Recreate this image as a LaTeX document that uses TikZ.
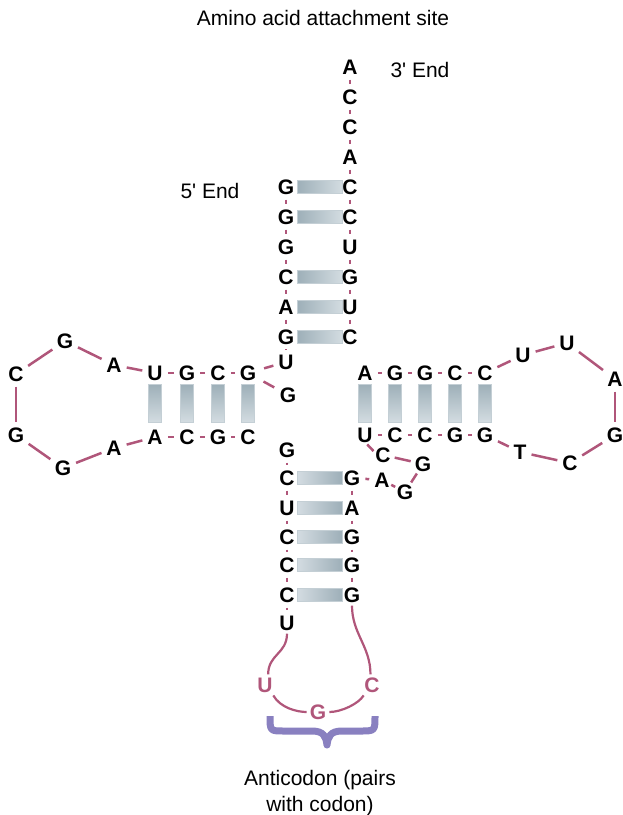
\documentclass[tikz,border=0pt]{standalone}
\usepackage{fontspec}
\setmainfont{Liberation Sans}
\definecolor{rna}{RGB}{176,86,122}
\definecolor{bracepurple}{RGB}{137,128,192}
\definecolor{bardark}{RGB}{157,175,184}
\definecolor{barlight}{RGB}{211,220,225}
\definecolor{baredge}{RGB}{196,207,213}

\begin{document}
\begin{tikzpicture}[x=1pt,y=-1pt,
	nt/.style={font=\bfseries\fontsize{21}{21}\selectfont,text height=15pt,text depth=0pt,inner sep=1pt},
	ac/.style={nt,text=rna},
	txt/.style={font=\fontsize{21}{26}\selectfont,inner sep=0pt,align=center},
	tie/.style={draw=rna,line width=2.5pt,shorten <=4pt,shorten >=4pt},
	bond/.style={draw=rna,line width=2.5pt,shorten <=4pt,shorten >=4pt},
	curl/.style={draw=rna,line width=2.2pt,shorten <=2pt,shorten >=2pt},
	accbar/.style={draw=baredge,line width=0.8pt,minimum width=45pt,minimum height=13pt,inner sep=0pt,left color=bardark,right color=barlight},
	antibar/.style={accbar,left color=barlight,right color=bardark},
	vbar/.style={draw=baredge,line width=0.8pt,minimum width=13pt,minimum height=38pt,inner sep=0pt,top color=bardark,bottom color=barlight}]

				\useasboundingbox (0,0) rectangle (623,815);

				\node[txt] (site) at (323,18) {Amino acid attachment site};
				\node[txt] (end3) at (420,70) {3\textquotesingle\ End};
				\node[txt] (end5) at (210,191) {5\textquotesingle\ End};
				\node[txt] (anti) at (320,793) {Anticodon (pairs\\with codon)};

				% acceptor stem
				\node[accbar] (p1) at (319.5,187) {};
				\node[accbar] (p2) at (319.5,217) {};
				\node[accbar] (p3) at (319.5,277) {};
				\node[accbar] (p4) at (319.5,307) {};
				\node[accbar] (p5) at (319.5,337) {};

				\node[nt] (r1) at (350,67) {A};
				\node[nt] (r2) at (350,97) {C};
				\node[nt] (r3) at (350,127) {C};
				\node[nt] (r4) at (350,157) {A};
				\node[nt] (r5) at (350,187) {C};
				\node[nt] (r6) at (350,217) {C};
				\node[nt] (r7) at (350,247) {U};
				\node[nt] (r8) at (350,277) {G};
				\node[nt] (r9) at (350,307) {U};
				\node[nt] (r10) at (350,337) {C};

				\node[nt] (l1) at (286,187) {G};
				\node[nt] (l2) at (286,217) {G};
				\node[nt] (l3) at (286,247) {G};
				\node[nt] (l4) at (286,277) {C};
				\node[nt] (l5) at (286,307) {A};
				\node[nt] (l6) at (286,337) {G};
				\node[nt] (l7) at (286,362) {U};
				\node[nt] (j1) at (288,395) {G};

				\draw[tie] (r1) -- (r2);
				\draw[tie] (r2) -- (r3);
				\draw[tie] (r3) -- (r4);
				\draw[tie] (r4) -- (r5);
				\draw[tie] (r5) -- (r6);
				\draw[tie] (r6) -- (r7);
				\draw[tie] (r7) -- (r8);
				\draw[tie] (r8) -- (r9);
				\draw[tie] (r9) -- (r10);
				\draw[tie] (l1) -- (l2);
				\draw[tie] (l2) -- (l3);
				\draw[tie] (l3) -- (l4);
				\draw[tie] (l4) -- (l5);
				\draw[tie] (l5) -- (l6);
				\draw[tie] (l6) -- (l7);

				% D arm
				\node[vbar] (q1) at (155,403) {};
				\node[vbar] (q2) at (187,403) {};
				\node[vbar] (q3) at (218,403) {};
				\node[vbar] (q4) at (248,403) {};

				\node[nt] (d1) at (155,373) {U};
				\node[nt] (d2) at (187,373) {G};
				\node[nt] (d3) at (218,373) {C};
				\node[nt] (d4) at (248,373) {G};
				\node[nt] (d5) at (155,437) {A};
				\node[nt] (d6) at (187,437) {C};
				\node[nt] (d7) at (218,437) {G};
				\node[nt] (d8) at (248,437) {C};

				\node[nt] (dl1) at (114,365) {A};
				\node[nt] (dl2) at (65,341) {G};
				\node[nt] (dl3) at (16,374) {C};
				\node[nt] (dl4) at (16,435) {G};
				\node[nt] (dl5) at (63,468) {G};
				\node[nt] (dl6) at (114,448) {A};

				\draw[tie] (d1) -- (d2);
				\draw[tie] (d2) -- (d3);
				\draw[tie] (d3) -- (d4);
				\draw[tie] (d5) -- (d6);
				\draw[tie] (d6) -- (d7);
				\draw[tie] (d7) -- (d8);
				\draw[bond] (d1) -- (dl1);
				\draw[bond] (dl1) -- (dl2);
				\draw[bond] (dl2) -- (dl3);
				\draw[bond] (dl3) -- (dl4);
				\draw[bond] (dl4) -- (dl5);
				\draw[bond] (dl5) -- (dl6);
				\draw[bond] (dl6) -- (d5);
				\draw[bond,shorten <=7pt] (d4) -- (l7);
				\draw[bond,shorten <=7pt,shorten >=5pt] (d4) -- (j1);

				% T arm
				\node[vbar] (s1) at (365,403) {};
				\node[vbar] (s2) at (395,403) {};
				\node[vbar] (s3) at (425,403) {};
				\node[vbar] (s4) at (455,403) {};
				\node[vbar] (s5) at (485,403) {};

				\node[nt] (t1) at (365,373) {A};
				\node[nt] (t2) at (395,373) {G};
				\node[nt] (t3) at (425,373) {G};
				\node[nt] (t4) at (455,373) {C};
				\node[nt] (t5) at (485,373) {C};
				\node[nt] (t6) at (365,435) {U};
				\node[nt] (t7) at (395,435) {C};
				\node[nt] (t8) at (425,435) {C};
				\node[nt] (t9) at (455,435) {G};
				\node[nt] (t10) at (485,435) {G};

				\node[nt] (tl1) at (523,355) {U};
				\node[nt] (tl2) at (567,343) {U};
				\node[nt] (tl3) at (615,379) {A};
				\node[nt] (tl4) at (615,435) {G};
				\node[nt] (tl5) at (570,463) {C};
				\node[nt] (tl6) at (520,452) {T};

				\draw[tie] (t1) -- (t2);
				\draw[tie] (t2) -- (t3);
				\draw[tie] (t3) -- (t4);
				\draw[tie] (t4) -- (t5);
				\draw[tie] (t6) -- (t7);
				\draw[tie] (t7) -- (t8);
				\draw[tie] (t8) -- (t9);
				\draw[tie] (t9) -- (t10);
				\draw[bond] (t5) -- (tl1);
				\draw[bond] (tl1) -- (tl2);
				\draw[bond] (tl2) -- (tl3);
				\draw[bond] (tl3) -- (tl4);
				\draw[bond] (tl4) -- (tl5);
				\draw[bond] (tl5) -- (tl6);
				\draw[bond] (tl6) -- (t10);

				% variable loop
				\node[nt] (v1) at (383,455) {C};
				\node[nt] (v2) at (423,464) {G};
				\node[nt] (v3) at (405,492) {G};
				\node[nt] (v4) at (382,480) {A};

				\draw[bond,shorten <=1pt,shorten >=1pt] (t6.-80) -- (v1.160);
				\draw[bond,shorten <=3pt,shorten >=3pt] (v1) -- (v2);
				\draw[bond,shorten <=1pt,shorten >=1pt] (v2) -- (v3);
				\draw[bond,shorten <=0.5pt,shorten >=0.5pt] (v3) -- (v4);

				% anticodon stem
				\node[antibar] (k1) at (320,478) {};
				\node[antibar] (k2) at (320,508) {};
				\node[antibar] (k3) at (320,537) {};
				\node[antibar] (k4) at (320,565) {};
				\node[antibar] (k5) at (320,595) {};

				\node[nt] (b1) at (287,450) {G};
				\node[nt] (b2) at (287,478) {C};
				\node[nt] (b3) at (287,508) {U};
				\node[nt] (b4) at (287,537) {C};
				\node[nt] (b5) at (287,565) {C};
				\node[nt] (b6) at (287,595) {C};
				\node[nt] (b7) at (287,623) {U};
				\node[nt] (b8) at (352,478) {G};
				\node[nt] (b9) at (352,508) {A};
				\node[nt] (b10) at (352,537) {G};
				\node[nt] (b11) at (352,565) {G};
				\node[nt] (b12) at (352,595) {G};

				\draw[tie] (v4) -- (b8);
				\draw[tie] (b1) -- (b2);
				\draw[tie] (b2) -- (b3);
				\draw[tie] (b3) -- (b4);
				\draw[tie] (b4) -- (b5);
				\draw[tie] (b5) -- (b6);
				\draw[tie] (b6) -- (b7);
				\draw[tie] (b8) -- (b9);
				\draw[tie] (b9) -- (b10);
				\draw[tie] (b10) -- (b11);
				\draw[tie] (b11) -- (b12);

				% anticodon
				\node[ac] (a1) at (265,685) {U};
				\node[ac] (a2) at (318,712) {G};
				\node[ac] (a3) at (372,685) {C};

				\draw[curl] (b7.south) .. controls +(0,22) and +(0,-22) .. (a1.70);
				\draw[curl] (a1.-50) .. controls +(8,14) and +(-12,0) .. (a2.west);
				\draw[curl] (a2.east) .. controls +(14,0) and +(-6,10) .. (a3.-130);
				\draw[curl] (a3.100) .. controls +(0,-30) and +(0,30) .. (b12.south);

				\draw[bracepurple,line width=7pt,line join=round]
					(270,716) .. controls (270,731) .. (284,731) -- (312,731)
					.. controls (324,731) and (326,737) .. (327,745)
					.. controls (328,737) and (330,731) .. (342,731) -- (360,731)
					.. controls (375,731) .. (375,716);

			\end{tikzpicture}
\end{document}
